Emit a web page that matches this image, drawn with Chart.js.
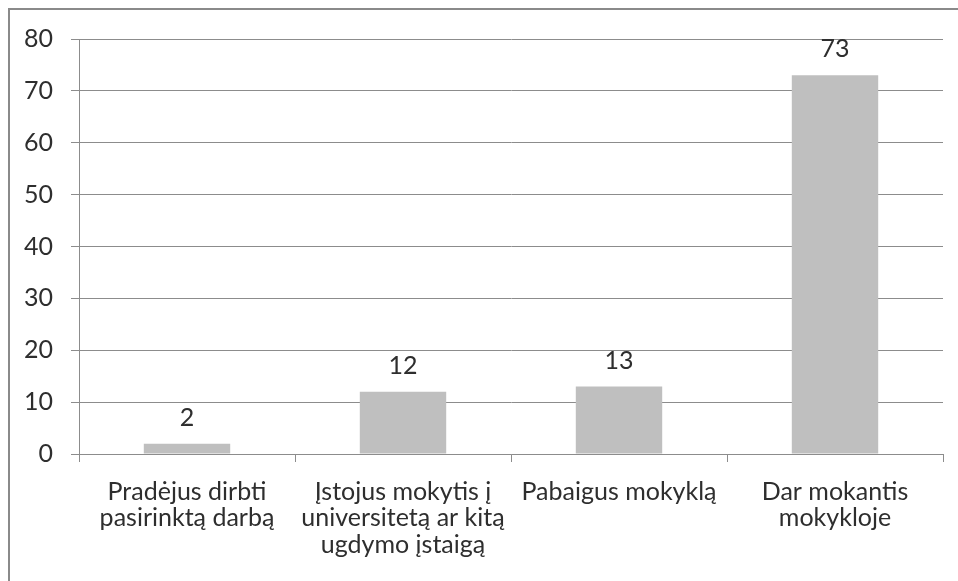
<!DOCTYPE html>
<html lang="lt">
<head>
<meta charset="UTF-8">
<title>Diagrama</title>
<script src="https://cdn.jsdelivr.net/npm/chart.js@4.4.1/dist/chart.umd.min.js"></script>
<style>
  body { margin: 0; background: #fff; }
  .langas { position: relative; width: 958px; height: 581px; overflow: hidden; }
  .remelis { position: absolute; left: 8px; top: 8px; width: 1000px; height: 700px;
             border-top: 2px solid #8a8a8a; border-left: 2px solid #8a8a8a; }
  .grafikas { position: absolute; left: 0; top: 0; width: 958px; height: 581px; }
</style>
</head>
<body>
<div class="langas">
  <div class="remelis"></div>
  <div class="grafikas"><canvas id="grafikas"></canvas></div>
</div>
<script>
  // duomenys
  var kategorijos = [
    ['Pradėjus dirbti', 'pasirinktą darbą'],
    ['Įstojus mokytis į', 'universitetą ar kitą', 'ugdymo įstaigą'],
    ['Pabaigus mokyklą'],
    ['Dar mokantis', 'mokykloje']
  ];
  var reiksmes = [2, 12, 13, 73];
  var asiesZymes = [0, 10, 20, 30, 40, 50, 60, 70, 80];

  var sriftas = { family: 'Lato', size: 25, lineHeight: 1.05 };
  var teksto_spalva = '#2e2e2e';
  var linijos = '#8c8c8c';

  // reiksmiu uzrasai virs stulpeliu
  var uzrasai = {
    id: 'uzrasai',
    afterDatasetsDraw: function (chart) {
      var ctx = chart.ctx;
      var meta = chart.getDatasetMeta(0);
      ctx.save();
      ctx.font = sriftas.size + 'px ' + sriftas.family;
      ctx.fillStyle = teksto_spalva;
      ctx.textAlign = 'center';
      ctx.textBaseline = 'alphabetic';
      meta.data.forEach(function (bar, i) {
        ctx.fillText(String(reiksmes[i]), bar.x, bar.y - 18);
      });
      ctx.restore();
    }
  };

  var ctx = document.getElementById('grafikas').getContext('2d');
  var grafikas = new Chart(ctx, {
    type: 'bar',
    data: {
      labels: kategorijos,
      datasets: [{
        data: reiksmes,
        backgroundColor: '#bfbfbf',
        borderWidth: 0,
        categoryPercentage: 1,
        barPercentage: 0.4
      }]
    },
    options: {
      responsive: true,
      maintainAspectRatio: false,
      animation: false,
      layout: { padding: { top: 39, right: 15, bottom: 0, left: 0 } },
      plugins: { legend: { display: false }, tooltip: { enabled: false } },
      scales: {
        x: {
          grid: { drawOnChartArea: false, drawTicks: true, tickLength: 8, color: linijos },
          border: { color: linijos },
          ticks: { color: teksto_spalva, font: sriftas, padding: 17, maxRotation: 0, autoSkip: false },
          afterFit: function (s) { s.height = 127; }
        },
        y: {
          min: 0,
          max: 80,
          afterBuildTicks: function (s) {
            s.ticks = asiesZymes.map(function (v) { return { value: v }; });
          },
          grid: { color: linijos, tickLength: 8 },
          border: { color: linijos },
          ticks: { color: teksto_spalva, font: sriftas, padding: 18 },
          afterFit: function (s) { s.width = 79; }
        }
      }
    },
    plugins: [uzrasai]
  });
</script>
</body>
</html>
